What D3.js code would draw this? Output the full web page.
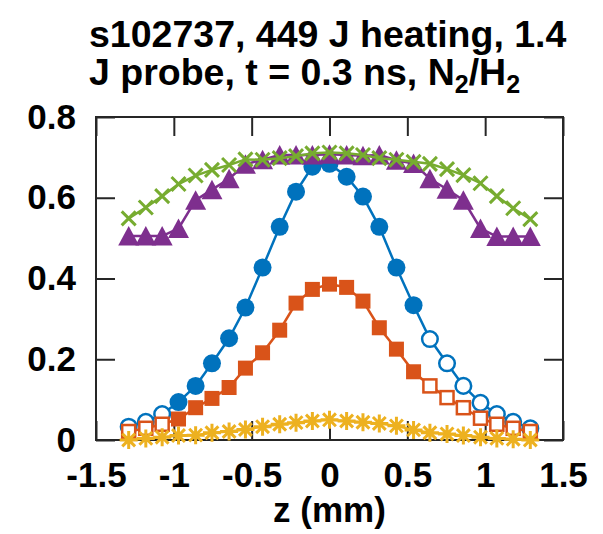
<!DOCTYPE html>
<html>
<head>
<meta charset="utf-8">
<title>s102737 profiles</title>
<style>
  body { margin: 0; background: #fff; }
  svg text { font-family: "Liberation Sans", Arial, sans-serif; font-weight: bold; fill: #000; }
</style>
</head>
<body>
<script src="https://d3js.org/d3.v7.min.js"></script>
<script>
var width = 603, height = 534;

// positions along z (mm)
var zPos = [-1.29, -1.18, -1.075, -0.97, -0.86, -0.755, -0.645, -0.54, -0.43, -0.32, -0.215, -0.11, 0,
            0.11, 0.215, 0.32, 0.43, 0.54, 0.645, 0.755, 0.86, 0.97, 1.075, 1.18, 1.29];

var blueVals   = [0.033, 0.045, 0.064, 0.094, 0.134, 0.19, 0.252, 0.328, 0.427, 0.528, 0.615, 0.677, 0.684,
                  0.652, 0.603, 0.528, 0.427, 0.334, 0.25, 0.19, 0.134, 0.092, 0.064, 0.045, 0.029];
var orangeVals = [0.021, 0.029, 0.039, 0.052, 0.08, 0.103, 0.13, 0.178, 0.216, 0.272, 0.339, 0.373, 0.386,
                  0.378, 0.344, 0.278, 0.225, 0.169, 0.134, 0.105, 0.08, 0.054, 0.039, 0.029, 0.021];
var yellowVals = [0.0, 0.004, 0.007, 0.011, 0.012, 0.018, 0.021, 0.026, 0.033, 0.039, 0.043, 0.047, 0.05,
                  0.047, 0.044, 0.041, 0.035, 0.025, 0.018, 0.015, 0.011, 0.007, 0.004, 0.002, 0.0];
var purpleVals = [0.505, 0.505, 0.505, 0.524, 0.594, 0.62, 0.647, 0.683, 0.694, 0.706, 0.706, 0.706, 0.708,
                  0.706, 0.704, 0.706, 0.693, 0.685, 0.647, 0.621, 0.594, 0.524, 0.504, 0.504, 0.504];
var greenVals  = [0.549, 0.576, 0.604, 0.634, 0.655, 0.669, 0.681, 0.695, 0.694, 0.698, 0.703, 0.71, 0.712,
                  0.71, 0.706, 0.698, 0.694, 0.689, 0.684, 0.671, 0.656, 0.636, 0.604, 0.574, 0.547];

// indices drawn with open markers (blue and orange)
var openIdx = [0, 1, 2, 18, 19, 20, 21, 22, 23, 24];

var xTicks = [-1.5, -1, -0.5, 0, 0.5, 1, 1.5];
var yTicks = [0, 0.2, 0.4, 0.6, 0.8];

var titleLine1 = "s102737, 449 J heating, 1.4";
var titleLine2 = ["J probe, t = 0.3 ns, N", "2", "/H", "2"];

var pLeft = 96, pRight = 563, pTop = 117, pBottom = 440;

var x = d3.scaleLinear().domain([-1.5, 1.5]).range([pLeft, pRight]);
var y = d3.scaleLinear().domain([0, 0.8]).range([pBottom, pTop]);

var svg = d3.select("body").append("svg")
    .attr("width", width)
    .attr("height", height);

var axisColor = "#262626";

// ticks (inward)
function styleAxis(g, showLabels) {
  g.select(".domain").remove();
  g.selectAll(".tick line").attr("stroke", axisColor).attr("stroke-width", 2);
  g.selectAll(".tick text").style("font-size", "35px").attr("fill", "#000");
  if (!showLabels) g.selectAll(".tick text").remove();
}

svg.append("g").attr("transform", "translate(0," + pBottom + ")")
  .call(d3.axisBottom(x).tickValues(xTicks).tickSize(-19).tickPadding(22).tickFormat(function(d){ return String(d); }))
  .call(styleAxis, true);
svg.append("g").attr("transform", "translate(0," + pTop + ")")
  .call(d3.axisTop(x).tickValues(xTicks).tickSize(-19))
  .call(styleAxis, false);
svg.append("g").attr("transform", "translate(" + pLeft + ",0)")
  .call(d3.axisLeft(y).tickValues(yTicks).tickSize(-19).tickPadding(20).tickFormat(function(d){ return String(d); }))
  .call(styleAxis, true);
svg.append("g").attr("transform", "translate(" + pRight + ",0)")
  .call(d3.axisRight(y).tickValues(yTicks).tickSize(-19))
  .call(styleAxis, false);

svg.append("rect")
  .attr("x", pLeft).attr("y", pTop)
  .attr("width", pRight - pLeft).attr("height", pBottom - pTop)
  .attr("fill", "none").attr("stroke", axisColor).attr("stroke-width", 2);

// series
var line = d3.line().x(function(d){ return x(d.z); }).y(function(d){ return y(d.v); });

function makeData(vals) {
  return vals.map(function(v, i){ return { z: zPos[i], v: v, open: openIdx.indexOf(i) >= 0 }; });
}

function drawLine(data, color) {
  svg.append("path").datum(data)
    .attr("d", line)
    .attr("fill", "none")
    .attr("stroke", color)
    .attr("stroke-width", 2.5);
}

var blue = "#0072BD", orange = "#D95319", yellow = "#EDB120", purple = "#7E2F8E", green = "#77AC30";

// blue circles
var blueData = makeData(blueVals);
drawLine(blueData, blue);
svg.append("g").selectAll("circle").data(blueData).enter().append("circle")
  .attr("cx", function(d){ return x(d.z); })
  .attr("cy", function(d){ return y(d.v); })
  .attr("r", function(d){ return d.open ? 7.8 : 9; })
  .attr("fill", function(d){ return d.open ? "#fff" : blue; })
  .attr("stroke", blue)
  .attr("stroke-width", function(d){ return d.open ? 2.5 : 0; });

// orange squares
var orangeData = makeData(orangeVals);
drawLine(orangeData, orange);
svg.append("g").selectAll("rect").data(orangeData).enter().append("rect")
  .attr("x", function(d){ return x(d.z) - (d.open ? 6.5 : 7.5); })
  .attr("y", function(d){ return y(d.v) - (d.open ? 6.5 : 7.5); })
  .attr("width", function(d){ return d.open ? 13 : 15; })
  .attr("height", function(d){ return d.open ? 13 : 15; })
  .attr("fill", function(d){ return d.open ? "#fff" : orange; })
  .attr("stroke", orange)
  .attr("stroke-width", function(d){ return d.open ? 2.5 : 0; });

// yellow asterisks
var yellowData = makeData(yellowVals);
drawLine(yellowData, yellow);
var star = "M0,-9V9M-9,0H9M-6.4,-6.4L6.4,6.4M-6.4,6.4L6.4,-6.4";
svg.append("g").selectAll("path").data(yellowData).enter().append("path")
  .attr("transform", function(d){ return "translate(" + x(d.z) + "," + y(d.v) + ")"; })
  .attr("d", star)
  .attr("fill", "none")
  .attr("stroke", yellow)
  .attr("stroke-width", 3);

// purple triangles
var purpleData = makeData(purpleVals);
drawLine(purpleData, purple);
svg.append("g").selectAll("path").data(purpleData).enter().append("path")
  .attr("transform", function(d){ return "translate(" + x(d.z) + "," + y(d.v) + ")"; })
  .attr("d", "M0,-10L10.5,9.5L-10.5,9.5Z")
  .attr("fill", purple);

// green crosses
var greenData = makeData(greenVals);
drawLine(greenData, green);
svg.append("g").selectAll("path").data(greenData).enter().append("path")
  .attr("transform", function(d){ return "translate(" + x(d.z) + "," + y(d.v) + ")"; })
  .attr("d", "M-7,-7L7,7M-7,7L7,-7")
  .attr("fill", "none")
  .attr("stroke", green)
  .attr("stroke-width", 3);

// title (two lines, left aligned)
svg.append("text").attr("x", 89).attr("y", 47).style("font-size", "37.5px").text(titleLine1);
var t2 = svg.append("text").attr("x", 89).attr("y", 85).style("font-size", "37.5px");
t2.append("tspan").text(titleLine2[0]);
t2.append("tspan").attr("dy", 8).style("font-size", "25px").text(titleLine2[1]);
t2.append("tspan").attr("dy", -8).text(titleLine2[2]);
t2.append("tspan").attr("dy", 8).style("font-size", "25px").text(titleLine2[3]);

// x label
svg.append("text")
  .attr("x", (pLeft + pRight) / 2)
  .attr("y", 522)
  .attr("text-anchor", "middle")
  .style("font-size", "35px")
  .text("z (mm)");
</script>
</body>
</html>
